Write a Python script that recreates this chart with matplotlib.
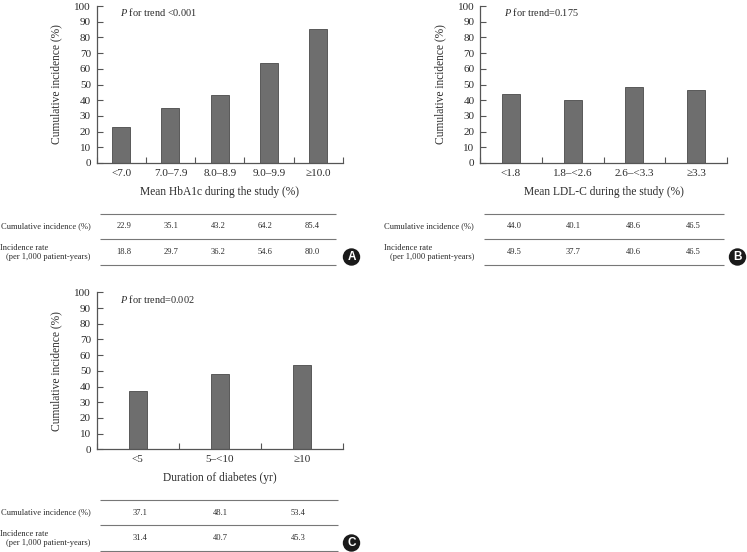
import matplotlib
matplotlib.use('Agg')
import matplotlib.pyplot as plt
from matplotlib.patches import Circle

plt.rcParams['font.family'] = ['Liberation Serif', 'DejaVu Serif']
plt.rcParams['mathtext.fontset'] = 'custom'
plt.rcParams['mathtext.it'] = 'Liberation Serif:italic'
plt.rcParams['mathtext.rm'] = 'Liberation Serif'

W, H = 747, 552
TXT = '#2b2b2b'
AXC = '#555555'
BAR = '#6e6e6e'

# bar heights
hba1c_labels = ['<7.0', '7.0–7.9', '8.0–8.9', '9.0–9.9', '≥10.0']
hba1c_bars = [22.9, 35.1, 43.2, 63.7, 85.4]
hba1c_cum = ['22.9', '35.1', '43.2', '64.2', '85.4']
hba1c_rate = ['18.8', '29.7', '36.2', '54.6', '80.0']

ldl_labels = ['<1.8', '1.8–<2.6', '2.6–<3.3', '≥3.3']
ldl_bars = [44.0, 40.1, 48.6, 46.5]
ldl_cum = ['44.0', '40.1', '48.6', '46.5']
ldl_rate = ['49.5', '37.7', '40.6', '46.5']

dur_labels = ['<5', '5–<10', '≥10']
dur_bars = [37.1, 48.1, 53.4]
dur_cum = ['37.1', '48.1', '53.4']
dur_rate = ['31.4', '40.7', '45.3']

y_ticks = list(range(0, 101, 10))

fig = plt.figure(figsize=(W / 100, H / 100), dpi=100)

# overlay in pixel coords for the small tables and badges
ov = fig.add_axes([0, 0, 1, 1], zorder=5)
ov.set_xlim(0, W)
ov.set_ylim(H, 0)
ov.axis('off')


def panel(x0, x1, y0, y100, labels, bars, bar_w, xlabel, ptext, px, ylab_x):
    ax = fig.add_axes([x0 / W, 1 - y0 / H, (x1 - x0) / W, (y0 - y100) / H])
    ax.patch.set_alpha(0)
    n = len(bars)
    pos = [i + 0.5 for i in range(n)]
    ax.bar(pos, bars, width=bar_w, color=BAR, edgecolor='#4a4a4a', linewidth=0.6)
    ax.set_xlim(0, n)
    ax.set_ylim(0, 100)
    ax.set_yticks(y_ticks)
    ax.set_xticks(range(n + 1))
    ax.set_xticklabels([])
    ax.set_xticks(pos, minor=True)
    ax.set_xticklabels(labels, minor=True, fontsize=8, color=TXT)
    ax.tick_params(axis='x', which='major', direction='in', length=4, width=0.8, color=AXC)
    ax.tick_params(axis='x', which='minor', length=0, pad=4)
    ax.tick_params(axis='y', direction='in', length=4.5, width=0.8, color=AXC,
                   labelsize=8, labelcolor=TXT, pad=4)
    for s in ['top', 'right']:
        ax.spines[s].set_visible(False)
    for s in ['left', 'bottom']:
        ax.spines[s].set_color(AXC)
        ax.spines[s].set_linewidth(0.9)
    ov.text((x0 + x1) / 2, y0 + 28.5, xlabel, ha='center', va='center',
            fontsize=8.3, color=TXT)
    ov.text(ylab_x, (y0 + y100) / 2, 'Cumulative incidence (%)', rotation=90,
            ha='center', va='center', fontsize=8.3, color=TXT)
    ov.text(px, y100 + 6.5, ptext, ha='left', va='center', fontsize=7.4, color=TXT)


def table(x0, x1, ys, label_r, label_l, xs, cum, rate, letter, bx, by):
    for y in ys:
        ov.plot([x0, x1], [y, y], color='#777777', lw=0.8, solid_capstyle='butt')
    yc = (ys[0] + ys[1]) / 2
    yr = (ys[1] + ys[2]) / 2
    ov.text(label_r, yc, 'Cumulative incidence (%)', ha='right', va='center', fontsize=6.1, color=TXT)
    ov.text(label_l, yr - 4.5, 'Incidence rate', ha='left', va='center', fontsize=6.1, color=TXT)
    ov.text(label_r, yr + 5, '(per 1,000 patient-years)', ha='right', va='center', fontsize=6.1, color=TXT)
    for x, a, b in zip(xs, cum, rate):
        ov.text(x, yc, a, ha='center', va='center', fontsize=6.1, color=TXT)
        ov.text(x, yr, b, ha='center', va='center', fontsize=6.1, color=TXT)
    ov.add_patch(Circle((bx, by), 8.7, color='#1a1a1a', lw=0))
    ov.text(bx, by + 0.3, letter, ha='center', va='center', fontsize=8.5, color='white',
            fontweight='bold', family='Liberation Sans')


panel(96.5, 343, 163, 6, hba1c_labels, hba1c_bars, 0.365,
      'Mean HbA1c during the study (%)', '$\\mathit{P}$ for trend <0.001', 120.5, 56)
table(100, 336, [213.5, 239.3, 265.3], 90.5, 0.5,
      [123.7, 170.7, 218, 265, 312], hba1c_cum, hba1c_rate, 'A', 351.5, 257)

panel(480, 727, 163, 6, ldl_labels, ldl_bars, 0.29,
      'Mean LDL-C during the study (%)', '$\\mathit{P}$ for trend=0.175', 504, 440)
table(483.7, 723.7, [213.5, 239.3, 265.3], 474, 383.5,
      [514, 573, 633.7, 693], ldl_cum, ldl_rate, 'B', 737.5, 257)

panel(96.5, 343, 449.3, 292.3, dur_labels, dur_bars, 0.22,
      'Duration of diabetes (yr)', '$\\mathit{P}$ for trend=0.002', 120.5, 56)
table(100, 338, [500, 525.3, 551.3], 90.5, 0.5,
      [140, 220, 298], dur_cum, dur_rate, 'C', 351.5, 543)

fig.savefig('out.png', dpi=100)
